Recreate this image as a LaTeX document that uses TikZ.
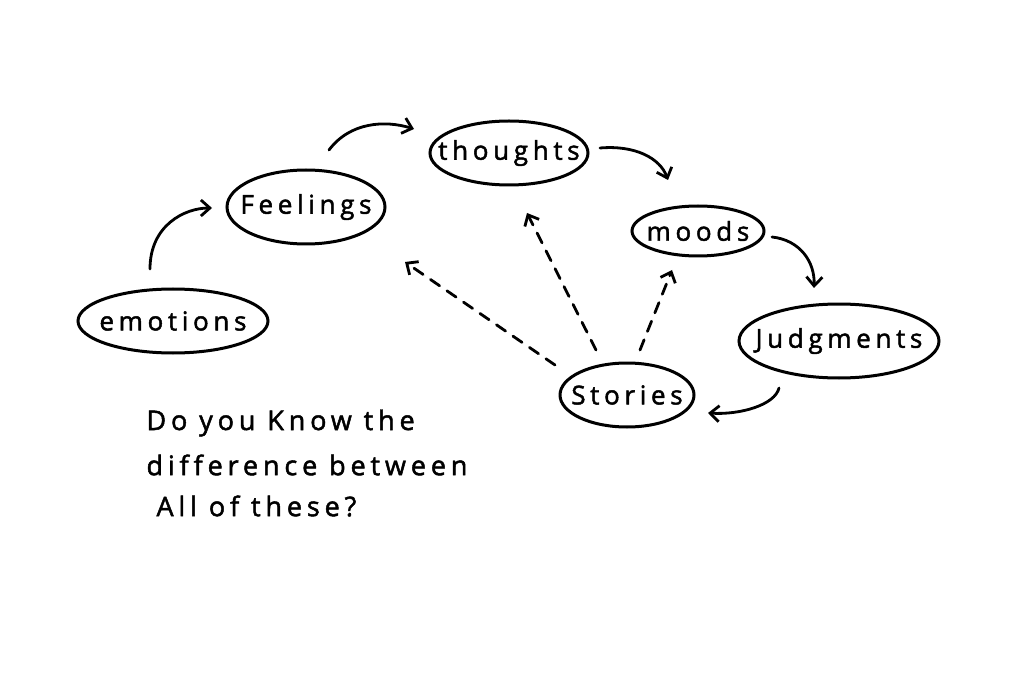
\documentclass[tikz,border=0pt]{standalone}
\usepackage{fontspec}
\setmainfont{Open Sans}
\newfontfamily\hand[LetterSpace=18,FakeBold=1.8,Ligatures=NoCommon]{Open Sans}
\usetikzlibrary{shapes.geometric,arrows.meta}
\begin{document}
\begin{tikzpicture}[x=1pt,y=-1pt,
  bubble/.style={ellipse,draw,line width=3pt,inner sep=0pt},
  word/.style={label={[font=\hand\fontsize{26}{28}\selectfont]center:#1}},
  flow/.style={line width=2.8pt,-{Straight Barb[length=9pt,width=16pt,line width=2.8pt]},line cap=round},
  dflow/.style={flow,dash pattern=on 11pt off 9pt},
  note/.style={anchor=west,font=\hand\fontsize{27}{29}\selectfont}]
\useasboundingbox (0,0) rectangle (1024,684);
\node[bubble,minimum width=190pt,minimum height=64pt,word=emotions] (emo) at (173,321) {};
\node[bubble,minimum width=158pt,minimum height=74pt,word=Feelings] (fee) at (306,207) {};
\node[bubble,minimum width=158pt,minimum height=64pt,word=thoughts] (tho) at (509,153) {};
\node[bubble,minimum width=132pt,minimum height=50pt,word=moods] (moo) at (698,231) {};
\node[bubble,minimum width=200pt,minimum height=74pt,word=Judgments] (jud) at (839,341) {};
\node[bubble,minimum width=134pt,minimum height=64pt,word=Stories] (sto) at (627,395) {};
\coordinate (e1) at (150,269);
\coordinate (e2) at (212,208);
\coordinate (f1) at (329,150);
\coordinate (f2) at (414,129);
\coordinate (t1) at (600,148);
\coordinate (t2) at (668,180);
\coordinate (m1) at (772,237);
\coordinate (m2) at (814,288);
\coordinate (j1) at (779,388);
\coordinate (j2) at (708,413);
\coordinate (s1) at (555,365);
\coordinate (s2) at (596,350);
\coordinate (s3) at (640,350);
\coordinate (d1) at (405,262);
\coordinate (d2) at (527,213);
\coordinate (d3) at (672,270);
\draw[flow] (e1) .. controls (150,225) and (185,208) .. (e2);
\draw[flow] (f1) .. controls (350,122) and (385,120) .. (f2);
\draw[flow] (t1) .. controls (635,145) and (660,158) .. (t2);
\draw[flow] (m1) .. controls (800,240) and (815,262) .. (m2);
\draw[flow] (j1) .. controls (775,405) and (740,415) .. (j2);
\draw[dflow] (s1) -- (d1);
\draw[dflow] (s2) -- (d2);
\draw[dflow] (s3) -- (d3);
\node[note] (n1) at (143,423) {Do you Know the};
\node[note] (n2) at (143,465) {difference between};
\node[note] (n3) at (153,506) {All of these?};
\end{tikzpicture}
\end{document}
